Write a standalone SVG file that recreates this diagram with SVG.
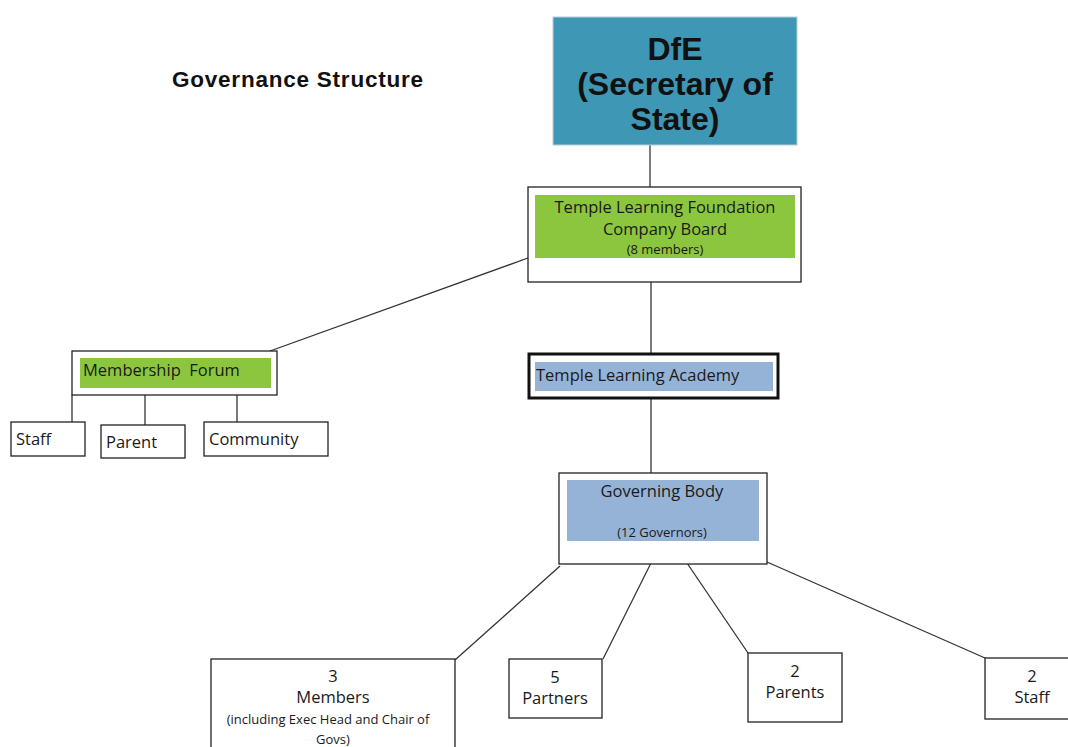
<svg xmlns="http://www.w3.org/2000/svg" width="1068" height="747" viewBox="0 0 1068 747">
  <style>
    .box { fill: #ffffff; stroke: #222222; stroke-width: 1.3; }
    .thick { fill: #ffffff; stroke: #111111; stroke-width: 3; }
    .green { fill: #8cc63f; }
    .blue { fill: #95b3d7; }
    .teal { fill: #3d97b5; stroke: #b9cdd6; stroke-width: 1; }
    .conn { stroke: #333333; stroke-width: 1.3; fill: none; }
    .t { font-family: "Open Sans", "Liberation Sans", sans-serif; fill: #1a1a1a; font-size: 16.5px; }
    .s { font-family: "Open Sans", "Liberation Sans", sans-serif; fill: #1a1a1a; font-size: 13px; }
    .big { font-family: "Liberation Sans", Arial, sans-serif; font-weight: bold; font-size: 32px; fill: #111111; text-anchor: middle; }
    .c { text-anchor: middle; }
  </style>

  <text x="172" y="87" font-family="Liberation Sans, Arial, sans-serif" font-weight="bold" font-size="22.5" fill="#111" textLength="251">Governance Structure</text>

  <g id="connectors">
    <line class="conn" x1="650" y1="145" x2="650" y2="187"/>
    <line class="conn" x1="651" y1="282" x2="651" y2="355"/>
    <line class="conn" x1="528" y1="258" x2="270" y2="351"/>
    <line class="conn" x1="72" y1="395" x2="72" y2="422"/>
    <line class="conn" x1="145" y1="395" x2="145" y2="425"/>
    <line class="conn" x1="237" y1="395" x2="237" y2="422"/>
    <line class="conn" x1="651" y1="398" x2="651" y2="473"/>
    <line class="conn" x1="560" y1="566" x2="455" y2="660"/>
    <line class="conn" x1="651" y1="563" x2="603" y2="659"/>
    <line class="conn" x1="687" y1="563" x2="748" y2="653"/>
    <line class="conn" x1="767" y1="562" x2="985" y2="658"/>
  </g>

  <g id="dfe">
    <rect class="teal" x="553" y="17" width="244" height="128"/>
    <text class="big" x="675" y="60">DfE</text>
    <text class="big" x="675" y="95">(Secretary of</text>
    <text class="big" x="675" y="130">State)</text>
  </g>

  <g id="company-board">
    <rect class="box" x="528" y="187" width="273" height="95"/>
    <rect class="green" x="535" y="195" width="260" height="63"/>
    <text class="t c" x="665" y="213">Temple Learning Foundation</text>
    <text class="t c" x="665" y="235">Company Board</text>
    <text class="s c" x="665" y="254" font-size="12">(8 members)</text>
  </g>

  <g id="membership-forum">
    <rect class="box" x="72" y="351" width="205" height="44"/>
    <rect class="green" x="80" y="358" width="191" height="30"/>
    <text class="t" x="83" y="376" xml:space="preserve">Membership  Forum</text>
  </g>

  <g id="forum-staff">
    <rect class="box" x="11" y="422" width="74" height="34"/>
    <text class="t" x="16" y="445">Staff</text>
  </g>
  <g id="forum-parent">
    <rect class="box" x="101" y="425" width="84" height="33"/>
    <text class="t" x="106" y="448">Parent</text>
  </g>
  <g id="forum-community">
    <rect class="box" x="204" y="422" width="124" height="34"/>
    <text class="t" x="209" y="445">Community</text>
  </g>

  <g id="academy">
    <rect class="thick" x="529" y="354" width="249" height="44"/>
    <rect class="blue" x="535" y="362" width="238" height="29"/>
    <text class="t" x="536" y="381">Temple Learning Academy</text>
  </g>

  <g id="governing-body">
    <rect class="box" x="559" y="473" width="208" height="91"/>
    <rect class="blue" x="567" y="480" width="192" height="61"/>
    <text class="t c" x="662" y="497">Governing Body</text>
    <text class="s c" x="662" y="537">(12 Governors)</text>
  </g>

  <g id="members">
    <rect class="box" x="211" y="659" width="244" height="100"/>
    <text class="t c" x="333" y="682">3</text>
    <text class="t c" x="333" y="703">Members</text>
    <text class="s c" x="328" y="724">(including Exec Head and Chair of</text>
    <text class="s c" x="333" y="744">Govs)</text>
  </g>

  <g id="partners">
    <rect class="box" x="509" y="659" width="93" height="59"/>
    <text class="t c" x="555" y="683">5</text>
    <text class="t c" x="555" y="704">Partners</text>
  </g>

  <g id="parents">
    <rect class="box" x="748" y="653" width="94" height="69"/>
    <text class="t c" x="795" y="677">2</text>
    <text class="t c" x="795" y="698">Parents</text>
  </g>

  <g id="staff">
    <rect class="box" x="985" y="658" width="90" height="61"/>
    <text class="t c" x="1032" y="682">2</text>
    <text class="t c" x="1032" y="703">Staff</text>
  </g>
</svg>
